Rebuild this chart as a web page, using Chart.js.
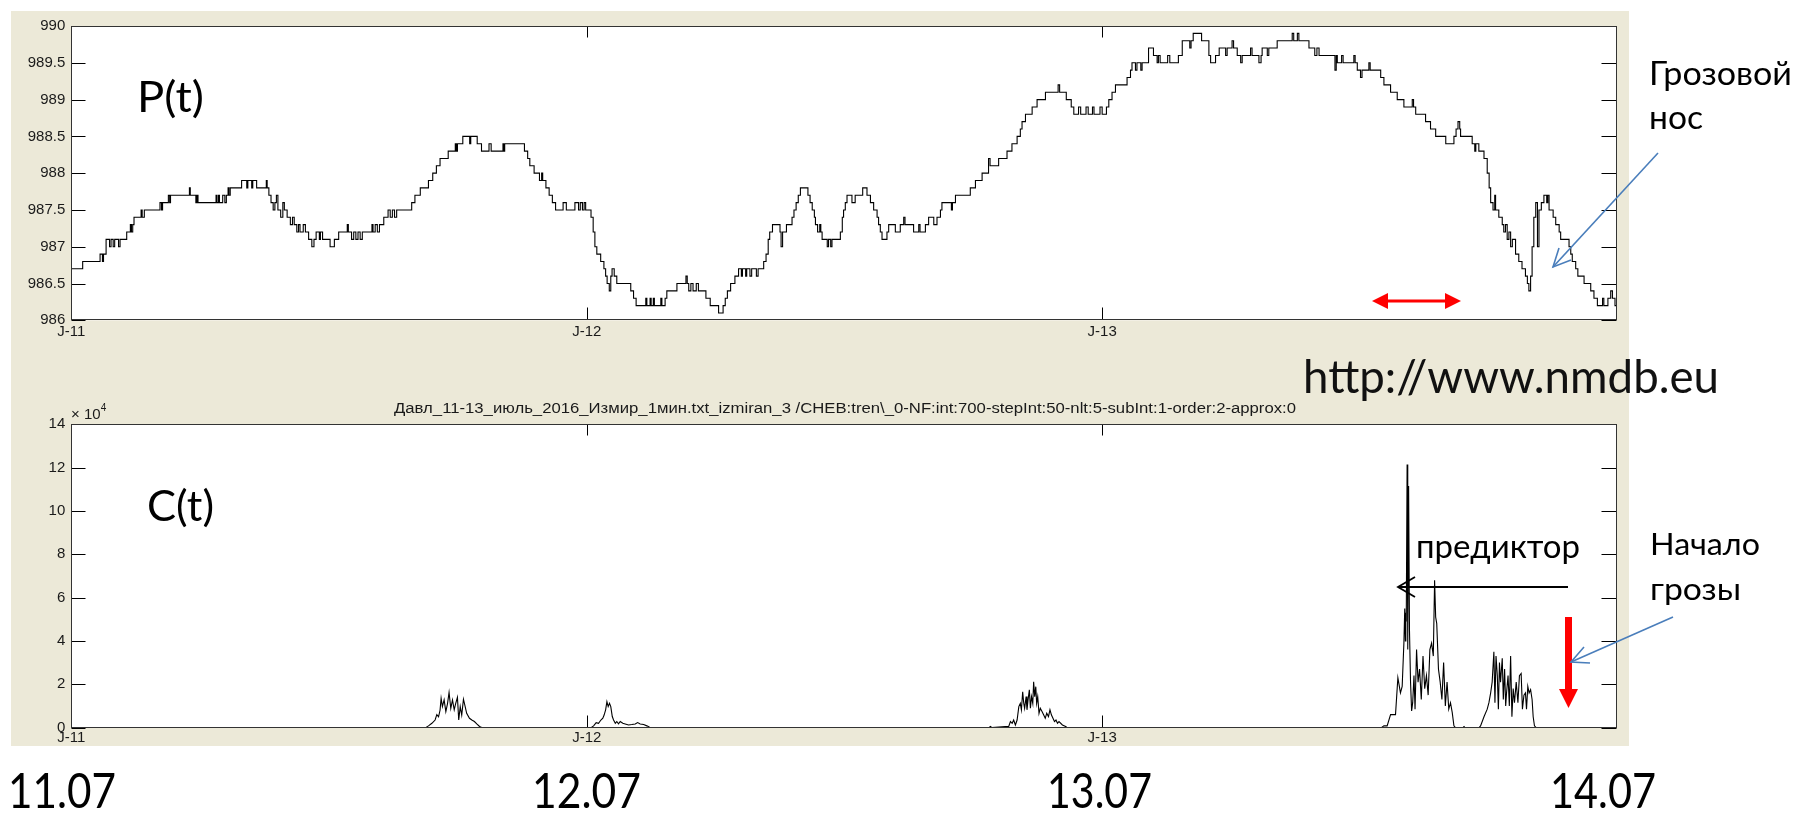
<!DOCTYPE html>
<html>
<head>
<meta charset="utf-8">
<script src="https://cdn.jsdelivr.net/npm/chart.js@4.4.1/dist/chart.umd.min.js"></script>
<style>
body{margin:0;background:#fff;width:1797px;height:813px;overflow:hidden;position:relative;}
#panel{position:absolute;left:11px;top:11px;width:1618px;height:735px;background:#ece9d8;}
.box{position:absolute;left:11px;width:1618px;}
#topBox{top:11px;height:336px;}
#botBox{top:400px;height:360px;}
#notes{position:absolute;left:0;top:0;}
</style>
</head>
<body>
<div id="panel"></div>
<div class="box" id="topBox"><canvas id="pChart" width="1618" height="336"></canvas></div>
<div class="box" id="botBox"><canvas id="cChart" width="1618" height="360"></canvas></div>
<svg id="notes" width="1797" height="813" xmlns="http://www.w3.org/2000/svg">
  <g font-family="Lato, 'Open Sans', sans-serif" fill="#000">
    <text x="137" y="112" font-size="42" textLength="67" lengthAdjust="spacingAndGlyphs">P(t)</text>
    <text x="147" y="521" font-size="42" textLength="67" lengthAdjust="spacingAndGlyphs">C(t)</text>
    <text x="1649" y="85" font-size="32" textLength="143" lengthAdjust="spacingAndGlyphs">Грозовой</text>
    <text x="1649" y="129" font-size="32" textLength="54" lengthAdjust="spacingAndGlyphs">нос</text>
    <text x="1303" y="393" font-size="47" fill="#111" textLength="416" lengthAdjust="spacingAndGlyphs">http://www.nmdb.eu</text>
    <text x="1416" y="558" font-size="33" textLength="164" lengthAdjust="spacingAndGlyphs">предиктор</text>
    <text x="1650" y="555" font-size="31" textLength="110" lengthAdjust="spacingAndGlyphs">Начало</text>
    <text x="1650" y="600" font-size="31" textLength="91" lengthAdjust="spacingAndGlyphs">грозы</text>
  </g>
  <g id="dates" font-family="Lato, 'Open Sans', sans-serif" fill="#000"></g>
  <text x="845" y="413" text-anchor="middle" font-family="'Liberation Sans', Arial, sans-serif" font-size="14" fill="#1a1a1a" textLength="902" lengthAdjust="spacingAndGlyphs">Давл_11-13_июль_2016_Измир_1мин.txt_izmiran_3 /CHEB:tren\_0-NF:int:700-stepInt:50-nlt:5-subInt:1-order:2-approx:0</text>
  <text x="71" y="419" font-family="'Liberation Sans', Arial, sans-serif" font-size="15" fill="#1a1a1a">× 10<tspan dy="-8" font-size="10">4</tspan></text>

  <!-- red double arrow under the pressure curve -->
  <line x1="1385" y1="301" x2="1448" y2="301" stroke="#ff0000" stroke-width="3"/>
  <polygon points="1372,301 1388,293 1388,309" fill="#ff0000"/>
  <polygon points="1461,301 1445,293 1445,309" fill="#ff0000"/>

  <!-- blue pointer to the pressure nose -->
  <line x1="1658" y1="153" x2="1553" y2="267" stroke="#4a7ebb" stroke-width="1.6"/>
  <polyline points="1559,248 1553,267 1571,260" fill="none" stroke="#4a7ebb" stroke-width="1.6"/>

  <!-- predictor arrow -->
  <line x1="1568" y1="587" x2="1398" y2="587" stroke="#000" stroke-width="1.8"/>
  <polyline points="1415,577 1398,587 1415,597" fill="none" stroke="#000" stroke-width="1.8"/>

  <!-- storm onset -->
  <rect x="1565" y="617" width="7" height="74" fill="#ff0000"/>
  <polygon points="1559,689 1578,689 1568.5,708" fill="#ff0000"/>
  <line x1="1673" y1="617" x2="1571" y2="662" stroke="#4a7ebb" stroke-width="1.6"/>
  <polyline points="1584,647 1571,662 1590,663" fill="none" stroke="#4a7ebb" stroke-width="1.6"/>
</svg>

<script>
// pressure, hPa: [hour from 11 July 00:00, value] -- value holds from that hour on
const pDay11 = [
  [0.00,986.7],[0.53,986.8],[1.34,986.9],[1.45,986.8],[1.50,986.9],[1.62,987.1],[1.78,987.0],[1.85,987.1],
  [1.95,987.0],[2.02,987.1],[2.20,987.0],[2.27,987.1],[2.58,987.2],[2.75,987.3],[2.80,987.2],[2.86,987.3],
  [2.92,987.4],[3.25,987.5],[3.30,987.4],[3.40,987.5],[4.13,987.6],[4.20,987.5],[4.25,987.6],[4.52,987.7],
  [4.58,987.6],[4.62,987.7],[5.50,987.8],[5.54,987.7],[5.80,987.6],[5.85,987.7],[5.90,987.6],[6.74,987.7],
  [6.78,987.6],[6.85,987.7],[6.90,987.6],[7.05,987.7],[7.15,987.6],[7.22,987.7],[7.30,987.8],[7.34,987.7],
  [7.40,987.8],[7.93,987.9],[8.17,987.8],[8.22,987.9],[8.40,987.8],[8.45,987.9],[8.63,987.8],[9.08,987.9],
  [9.12,987.8],[9.20,987.7],[9.30,987.6],[9.40,987.5],[9.48,987.6],[9.55,987.7],[9.62,987.5],[9.75,987.4],
  [9.85,987.6],[9.92,987.5],[10.05,987.4],[10.20,987.3],[10.30,987.4],[10.38,987.3],[10.50,987.2],[10.58,987.3],
  [10.65,987.2],[10.80,987.3],[10.90,987.2],[11.05,987.1],[11.20,987.0],[11.30,987.1],[11.40,987.2],[11.55,987.1],
  [11.60,987.2],[11.70,987.1],[12.05,987.0],[12.25,987.1],[12.45,987.2],[12.85,987.3],[12.90,987.2],[13.05,987.1],
  [13.15,987.2],[13.25,987.1],[13.35,987.2],[13.45,987.1],[13.55,987.2],[14.00,987.3],[14.05,987.2],[14.15,987.3],
  [14.25,987.2],[14.35,987.3],[14.55,987.4],[14.75,987.5],[14.85,987.4],[14.95,987.5],[15.05,987.4],[15.15,987.5],
  [15.85,987.6],[16.00,987.7],[16.25,987.8],[16.63,987.9],[16.83,988.0],[17.00,988.1],[17.17,988.2],[17.55,988.3],
  [17.88,988.4],[17.93,988.3],[17.98,988.4],[18.23,988.5],[18.55,988.4],[18.60,988.5],[18.90,988.4],[19.10,988.3],
  [19.45,988.4],[19.55,988.3],[20.10,988.4],[20.14,988.3],[20.18,988.4],[21.10,988.3],[21.25,988.2],[21.35,988.1],
  [21.55,988.0],[21.80,987.9],[21.90,988.0],[21.95,987.9],[22.10,987.8],[22.25,987.7],[22.40,987.6],[22.55,987.5],
  [22.90,987.6],[23.05,987.5],[23.45,987.6],[23.62,987.5],[23.70,987.6],[23.80,987.5],[23.88,987.6],[23.95,987.5]
];
const pDay12 = [
  [24.20,987.4],[24.30,987.2],[24.38,987.0],[24.47,986.9],[24.65,986.8],[24.80,986.7],[24.88,986.6],[24.95,986.5],
  [25.05,986.4],[25.12,986.6],[25.18,986.7],[25.28,986.6],[25.40,986.5],[26.05,986.4],[26.18,986.3],[26.30,986.2],
  [26.75,986.3],[26.80,986.2],[26.95,986.3],[27.00,986.2],[27.10,986.3],[27.15,986.2],[27.45,986.3],[27.50,986.2],
  [27.65,986.3],[27.73,986.4],[28.20,986.5],[28.62,986.6],[28.68,986.5],[28.75,986.4],[28.85,986.5],[28.95,986.4],
  [29.10,986.5],[29.20,986.4],[29.55,986.3],[29.75,986.2],[30.14,986.1],[30.35,986.2],[30.45,986.3],[30.55,986.4],
  [30.70,986.5],[30.90,986.6],[31.07,986.7],[31.20,986.6],[31.25,986.7],[31.40,986.6],[31.45,986.7],[31.60,986.6],
  [31.68,986.7],[31.90,986.6],[31.98,986.7],[32.24,986.8],[32.35,986.9],[32.45,987.1],[32.52,987.2],[32.65,987.3],
  [33.00,987.2],[33.05,987.0],[33.12,987.2],[33.30,987.3],[33.56,987.4],[33.65,987.5],[33.75,987.6],[33.85,987.7],
  [33.95,987.8],[34.30,987.7],[34.40,987.6],[34.50,987.5],[34.60,987.4],[34.65,987.3],[34.75,987.2],[34.85,987.3],
  [34.90,987.2],[34.96,987.1],[35.20,987.0],[35.26,987.1],[35.36,987.0],[35.42,987.1],[35.81,987.2],[35.90,987.4],
  [35.96,987.5],[36.04,987.6],[36.12,987.7],[36.35,987.6],[36.50,987.7],[36.85,987.8],[37.05,987.7],[37.21,987.6],
  [37.36,987.5],[37.52,987.4],[37.59,987.3],[37.67,987.2],[37.75,987.1],[37.98,987.2],[38.06,987.3],[38.37,987.2],
  [38.60,987.3],[38.76,987.4],[38.82,987.3],[39.22,987.2],[39.46,987.3],[39.52,987.2],[39.77,987.3],[39.92,987.4],
  [40.16,987.3],[40.31,987.4],[40.47,987.5],[40.54,987.6],[40.98,987.5],[41.03,987.6],[41.17,987.7],[41.86,987.8],
  [42.10,987.9],[42.41,988.0],[42.71,988.2],[42.78,988.1],[43.18,988.2],[43.57,988.3],[43.80,988.4],[44.04,988.5],
  [44.19,988.6],[44.27,988.7],[44.43,988.8],[44.74,988.9],[44.97,989.0],[45.36,989.1],[45.95,989.2],[46.02,989.1],
  [46.33,989.0],[46.56,988.9],[46.68,988.8],[46.90,988.9],[47.00,988.8],[47.25,988.9],[47.35,988.8],[47.55,988.9],
  [47.62,988.8],[47.90,988.9],[48.00,988.8],[48.20,988.9]
];
const pDay13 = [
  [48.31,989.0],[48.46,989.1],[48.62,989.2],[49.16,989.3],[49.32,989.4],[49.39,989.5],[49.55,989.4],[49.62,989.5],
  [49.80,989.4],[49.86,989.5],[50.16,989.7],[50.39,989.6],[50.56,989.5],[50.62,989.6],[50.70,989.5],[51.05,989.6],
  [51.15,989.5],[51.55,989.6],[51.73,989.8],[52.08,989.7],[52.14,989.8],[52.24,989.9],[52.63,989.8],[52.97,989.6],
  [53.05,989.5],[53.28,989.6],[53.45,989.7],[53.75,989.6],[53.82,989.7],[54.05,989.8],[54.12,989.7],[54.29,989.6],
  [54.45,989.5],[54.52,989.6],[54.91,989.7],[54.98,989.6],[55.30,989.5],[55.40,989.6],[55.45,989.7],[55.69,989.6],
  [55.76,989.7],[56.15,989.8],[56.85,989.9],[56.92,989.8],[57.09,989.9],[57.16,989.8],[57.63,989.7],[57.90,989.6],
  [58.00,989.7],[58.10,989.6],[58.84,989.4],[58.90,989.6],[58.95,989.5],[59.15,989.6],[59.22,989.5],[59.72,989.6],
  [59.78,989.5],[59.88,989.4],[60.03,989.3],[60.10,989.4],[60.42,989.5],[60.48,989.4],[60.97,989.3],[61.12,989.2],
  [61.43,989.1],[61.74,989.0],[62.05,988.9],[62.44,989.0],[62.50,988.9],[62.60,988.8],[63.06,988.7],[63.29,988.6],
  [63.53,988.5],[64.00,988.4],[64.38,988.5],[64.48,988.6],[64.57,988.7],[64.65,988.6],[64.69,988.5],[65.23,988.4],
  [65.35,988.3],[65.40,988.4],[65.54,988.3],[65.78,988.2],[65.93,988.0],[66.02,987.8],[66.09,987.6],[66.20,987.5],
  [66.28,987.7],[66.32,987.5],[66.47,987.4],[66.63,987.3],[66.70,987.2],[66.78,987.3],[66.86,987.1],[66.94,987.2],
  [67.02,987.0],[67.10,987.1],[67.25,986.9],[67.40,986.8],[67.55,986.7],[67.71,986.6],[67.80,986.5],[67.87,986.4],
  [67.95,986.6],[68.02,987.0],[68.10,987.4],[68.19,987.6],[68.27,987.0],[68.34,987.5],[68.45,987.6],[68.57,987.7],
  [68.70,987.6],[68.75,987.7],[68.81,987.5],[69.00,987.4],[69.12,987.3],[69.28,987.2],[69.35,987.1],[69.74,987.0],
  [69.82,986.9],[69.89,986.8],[70.05,986.7],[70.15,986.6],[70.44,986.5],[70.75,986.4],[70.90,986.3],[71.06,986.2],
  [71.30,986.3],[71.36,986.2],[71.55,986.3],[71.68,986.4],[71.76,986.3],[71.88,986.2],[71.95,986.2]
];

// Chebyshev trend criterion C(t), units of 1e4
const cDay11 = [
  [15.00,0],[16.50,0],[16.63,0.08],[16.79,0.2],[16.94,0.35],[17.02,0.6],[17.10,0.5],[17.17,0.8],[17.22,1.35],
  [17.28,0.97],[17.36,1.28],[17.44,0.74],[17.52,1.12],[17.59,1.62],[17.67,0.89],[17.75,1.28],[17.83,0.82],
  [17.90,1.12],[17.98,1.4],[18.04,0.35],[18.11,0.97],[18.18,0.58],[18.26,1.31],[18.34,0.97],[18.41,0.66],
  [18.54,0.43],[18.65,0.35],[18.77,0.28],[18.88,0.17],[19.01,0.05],[19.11,0]
];
const cDay12 = [
  [24.20,0],[24.32,0.08],[24.44,0.23],[24.55,0.2],[24.66,0.35],[24.75,0.43],[24.81,0.58],[24.88,0.82],[24.94,1.2],
  [25.00,0.97],[25.06,1.12],[25.12,0.97],[25.19,0.51],[25.25,0.35],[25.33,0.2],[25.40,0.28],[25.48,0.17],[25.56,0.28],
  [25.68,0.2],[25.79,0.17],[25.95,0.12],[26.10,0.14],[26.26,0.17],[26.37,0.23],[26.49,0.17],[26.65,0.14],[26.80,0.08],
  [26.93,0.02],[27.03,0],[42.72,0],[42.80,0.05],[42.87,0],[43.49,0.05],[43.65,0.05],[43.73,0.28],[43.81,0.2],
  [43.88,0.35],[43.96,0.12],[44.04,0.35],[44.12,0.97],[44.19,1.12],[44.24,0.82],[44.30,1.65],[44.35,1.12],[44.39,0.89],
  [44.46,1.43],[44.50,0.82],[44.55,1.28],[44.61,1.74],[44.66,0.89],[44.71,1.43],[44.77,1.12],[44.81,2.12],[44.86,1.43],
  [44.91,1.89],[44.95,1.12],[45.00,1.43],[45.06,0.66],[45.12,0.89],[45.20,0.74],[45.28,0.58],[45.35,0.43],[45.42,0.66],
  [45.50,0.51],[45.57,0.82],[45.64,0.58],[45.71,0.43],[45.78,0.28],[45.85,0.35],[45.92,0.2],[45.99,0.28],[46.15,0.12],
  [46.30,0.05],[46.38,0]
];
const cDay13 = [
  [61.00,0],[61.12,0.08],[61.27,0.08],[61.43,0.6],[61.66,0.6],[61.77,2.3],[61.89,1.6],[61.97,1.9],[62.05,3.9],
  [62.09,5.5],[62.12,4.0],[62.14,5.3],[62.16,4.9],[62.20,12.15],[62.23,3.6],[62.27,11.15],[62.31,4.5],[62.36,2.1],
  [62.41,0.77],[62.46,1.15],[62.52,2.4],[62.57,0.85],[62.64,3.6],[62.71,2.1],[62.78,2.7],[62.86,1.3],[62.94,3.3],
  [63.02,1.8],[63.10,2.4],[63.18,1.5],[63.26,3.6],[63.34,3.9],[63.42,3.3],[63.48,6.8],[63.53,5.1],[63.58,4.8],
  [63.66,2.7],[63.74,2.1],[63.82,1.3],[63.90,3.0],[63.98,1.0],[64.06,2.1],[64.14,0.85],[64.22,1.15],[64.30,0.7],
  [64.38,0.08],[64.45,0],[64.80,0],[64.85,0.05],[64.90,0],[65.55,0],[65.62,0.08],[65.78,0.5],[65.93,0.85],
  [66.01,1.15],[66.09,1.6],[66.16,2.1],[66.24,3.5],[66.29,1.15],[66.34,3.3],[66.40,2.4],[66.45,0.85],[66.50,3.0],
  [66.55,2.1],[66.63,3.2],[66.68,1.3],[66.74,2.7],[66.79,1.0],[66.83,1.6],[66.90,2.4],[66.96,1.0],[67.02,3.3],
  [67.08,0.5],[67.14,1.8],[67.20,1.15],[67.28,2.1],[67.36,1.15],[67.43,2.4],[67.51,2.5],[67.57,0.85],[67.64,1.5],
  [67.71,1.6],[67.76,0.85],[67.82,1.9],[67.88,1.6],[67.95,1.75],[68.02,1.3],[68.07,0.5],[68.13,0.08],[68.21,0],
  [71.95,0]
];

const dayTicks = [0, 24, 48];
const dayLabels = ['J-11', 'J-12', 'J-13'];
const pTicks = [986, 986.5, 987, 987.5, 988, 988.5, 989, 989.5, 990];
const cTicks = [0, 2, 4, 6, 8, 10, 12, 14];
const dateLabels = ['11.07', '12.07', '13.07', '14.07'];

// where the big date captions sit under the lower panel: [left x, width]
const datePlace = [[8, 108], [532, 109], [1047, 105], [1550, 106]];

const tickFont = {family: "'Liberation Sans', Arial, sans-serif", size: 15};
const tickColor = '#1a1a1a';

// white plot box, frame and inward tick marks like the old MATLAB axes
const matlabAxes = {
  id: 'matlabAxes',
  beforeDraw(chart) {
    const {ctx, chartArea: a} = chart;
    ctx.save();
    ctx.fillStyle = '#fff';
    ctx.fillRect(a.left, a.top, a.right - a.left, a.bottom - a.top);
    ctx.restore();
  },
  afterDraw(chart) {
    const {ctx, chartArea: a, scales: {x, y}} = chart;
    const L = Math.round(a.left) + 0.5, R = Math.round(a.right) - 0.5;
    const T = Math.round(a.top) + 0.5, B = Math.round(a.bottom) - 0.5;
    ctx.save();
    ctx.strokeStyle = '#000';
    ctx.lineWidth = 1;
    ctx.beginPath();
    y.ticks.forEach(t => {
      const py = Math.round(y.getPixelForValue(t.value)) + 0.5;
      ctx.moveTo(L, py); ctx.lineTo(L + 14, py);
      ctx.moveTo(R, py); ctx.lineTo(R - 15, py);
    });
    x.ticks.forEach(t => {
      const px = Math.round(x.getPixelForValue(t.value)) + 0.5;
      ctx.moveTo(px, T); ctx.lineTo(px, T + 11);
      ctx.moveTo(px, B); ctx.lineTo(px, B - 12);
    });
    ctx.stroke();
    ctx.strokeStyle = '#333';
    ctx.strokeRect(L, T, R - L, B - T);
    ctx.restore();
  }
};

function toPoints(parts) {
  return [].concat(...parts).map(p => ({x: p[0], y: p[1]}));
}

function makeChart(id, cfg) {
  return new Chart(document.getElementById(id), {
    type: 'line',
    data: {
      datasets: [{
        data: cfg.points,
        borderColor: '#000',
        borderWidth: 1.1,
        pointRadius: 0,
        stepped: cfg.stepped,
        tension: 0
      }]
    },
    options: {
      responsive: false,
      animation: false,
      devicePixelRatio: 1,
      layout: {padding: {left: 0, top: cfg.top, right: 12.5, bottom: 0}},
      plugins: {legend: {display: false}, tooltip: {enabled: false}},
      scales: {
        x: {
          type: 'linear',
          min: 0,
          max: 71.95,
          grid: {display: false, drawTicks: false, tickLength: 0},
          border: {display: false},
          afterBuildTicks: s => { s.ticks = dayTicks.map(v => ({value: v})); },
          afterFit: s => { s.height = cfg.xHeight; },
          ticks: {
            autoSkip: false,
            maxRotation: 0,
            padding: cfg.xPad,
            font: tickFont,
            color: tickColor,
            callback: v => dayLabels[dayTicks.indexOf(v)]
          }
        },
        y: {
          min: cfg.yTicks[0],
          max: cfg.yTicks[cfg.yTicks.length - 1],
          grid: {display: false, drawTicks: false, tickLength: 0},
          border: {display: false},
          afterBuildTicks: s => { s.ticks = cfg.yTicks.map(v => ({value: v})); },
          afterFit: s => { s.width = 60.3; },
          ticks: {
            autoSkip: false,
            padding: 6,
            font: tickFont,
            color: tickColor,
            callback: v => String(v)
          }
        }
      }
    },
    plugins: [matlabAxes]
  });
}

makeChart('pChart', {
  points: toPoints([pDay11, pDay12, pDay13]),
  stepped: 'before',
  yTicks: pTicks,
  top: 8.1,
  xHeight: 26.7,
  xPad: 3
});

makeChart('cChart', {
  points: toPoints([cDay11, cDay12, cDay13]),
  stepped: false,
  yTicks: cTicks,
  top: 24.3,
  xHeight: 32.4,
  xPad: 1
});

// big date captions along the bottom
const dates = document.getElementById('dates');
dateLabels.forEach((txt, i) => {
  const t = document.createElementNS('http://www.w3.org/2000/svg', 'text');
  t.setAttribute('x', datePlace[i][0]);
  t.setAttribute('y', 808);
  t.setAttribute('font-size', 49);
  t.setAttribute('textLength', datePlace[i][1]);
  t.setAttribute('lengthAdjust', 'spacingAndGlyphs');
  t.textContent = txt;
  dates.appendChild(t);
});
</script>
</body>
</html>
